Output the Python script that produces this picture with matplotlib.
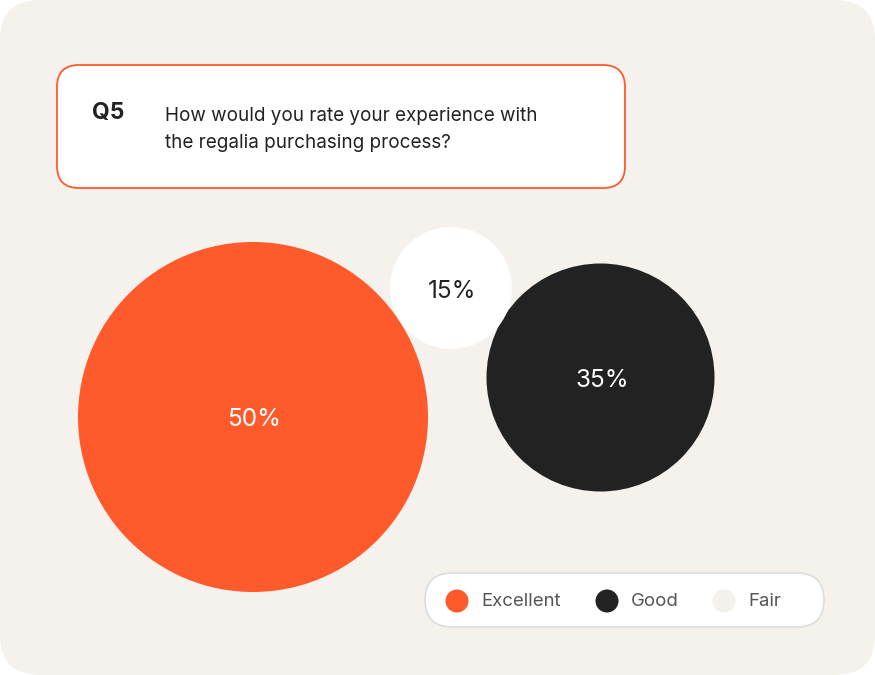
import matplotlib
matplotlib.use("Agg")
import matplotlib.pyplot as plt
from matplotlib.patches import Circle, FancyBboxPatch

plt.rcParams['font.family'] = ['Inter', 'DejaVu Sans']

# Données
categories = ["Excellent", "Good", "Fair"]
values = [50, 35, 15]
question_id = "Q5"
question = "How would you rate your experience with\nthe regalia purchasing process?"

# Couleurs
colors = ["#FF5A2B", "#222222", "#FFFFFF"]
legend_colors = ["#FF5A2B", "#222222", "#F4F1EC"]
label_colors = ["white", "white", "#222222"]
bg = "#F5F2EE"

# Disposition des bulles (centre x, centre y, rayon) en pixels
layout = [(253, 417, 175), (600.5, 377.5, 114), (451, 288, 61)]

W, H = 875, 675
fig = plt.figure(figsize=(W / 100, H / 100), dpi=100)
ax = fig.add_axes([0, 0, 1, 1])
ax.set_xlim(0, W)
ax.set_ylim(H, 0)
ax.set_aspect("equal")
ax.axis("off")

# Fond arrondi
ax.add_patch(FancyBboxPatch((40, 40), W - 80, H - 80,
                            boxstyle="round,pad=40", fc=bg, ec="none"))

# Encadré de la question
ax.add_patch(FancyBboxPatch((79, 87), 524, 79, boxstyle="round,pad=22",
                            fc="white", ec="#FF5A2B", lw=1.3))
ax.text(92, 113, question_id, fontsize=16.5, fontweight="bold",
        color="#222222", va="center", ha="left")
ax.text(165, 129.5, question, fontsize=13.6, color="#222222",
        va="center", ha="left", linespacing=1.62)

# Bulles
for (cx, cy, r), v, c, lc in zip(layout, values, colors, label_colors):
    ax.add_patch(Circle((cx, cy), r, fc=c, ec="none"))
    ax.text(cx + 1.5, cy + 3, f"{v}%", fontsize=17.5, color=lc,
            ha="center", va="center")

# Légende
ax.add_patch(FancyBboxPatch((452, 600), 345, 0, boxstyle="round,pad=27",
                            fc="white", ec="#DDDDDD", lw=1.2))
leg_x = [457, 607, 724]
for x, name, c in zip(leg_x, categories, legend_colors):
    ax.add_patch(Circle((x, 601), 11.5, fc=c, ec="none"))
    ax.text(x + 24, 602, name, fontsize=13.4, color="#555555",
            ha="left", va="center")

fig.savefig("out.png", dpi=100, facecolor="white")
